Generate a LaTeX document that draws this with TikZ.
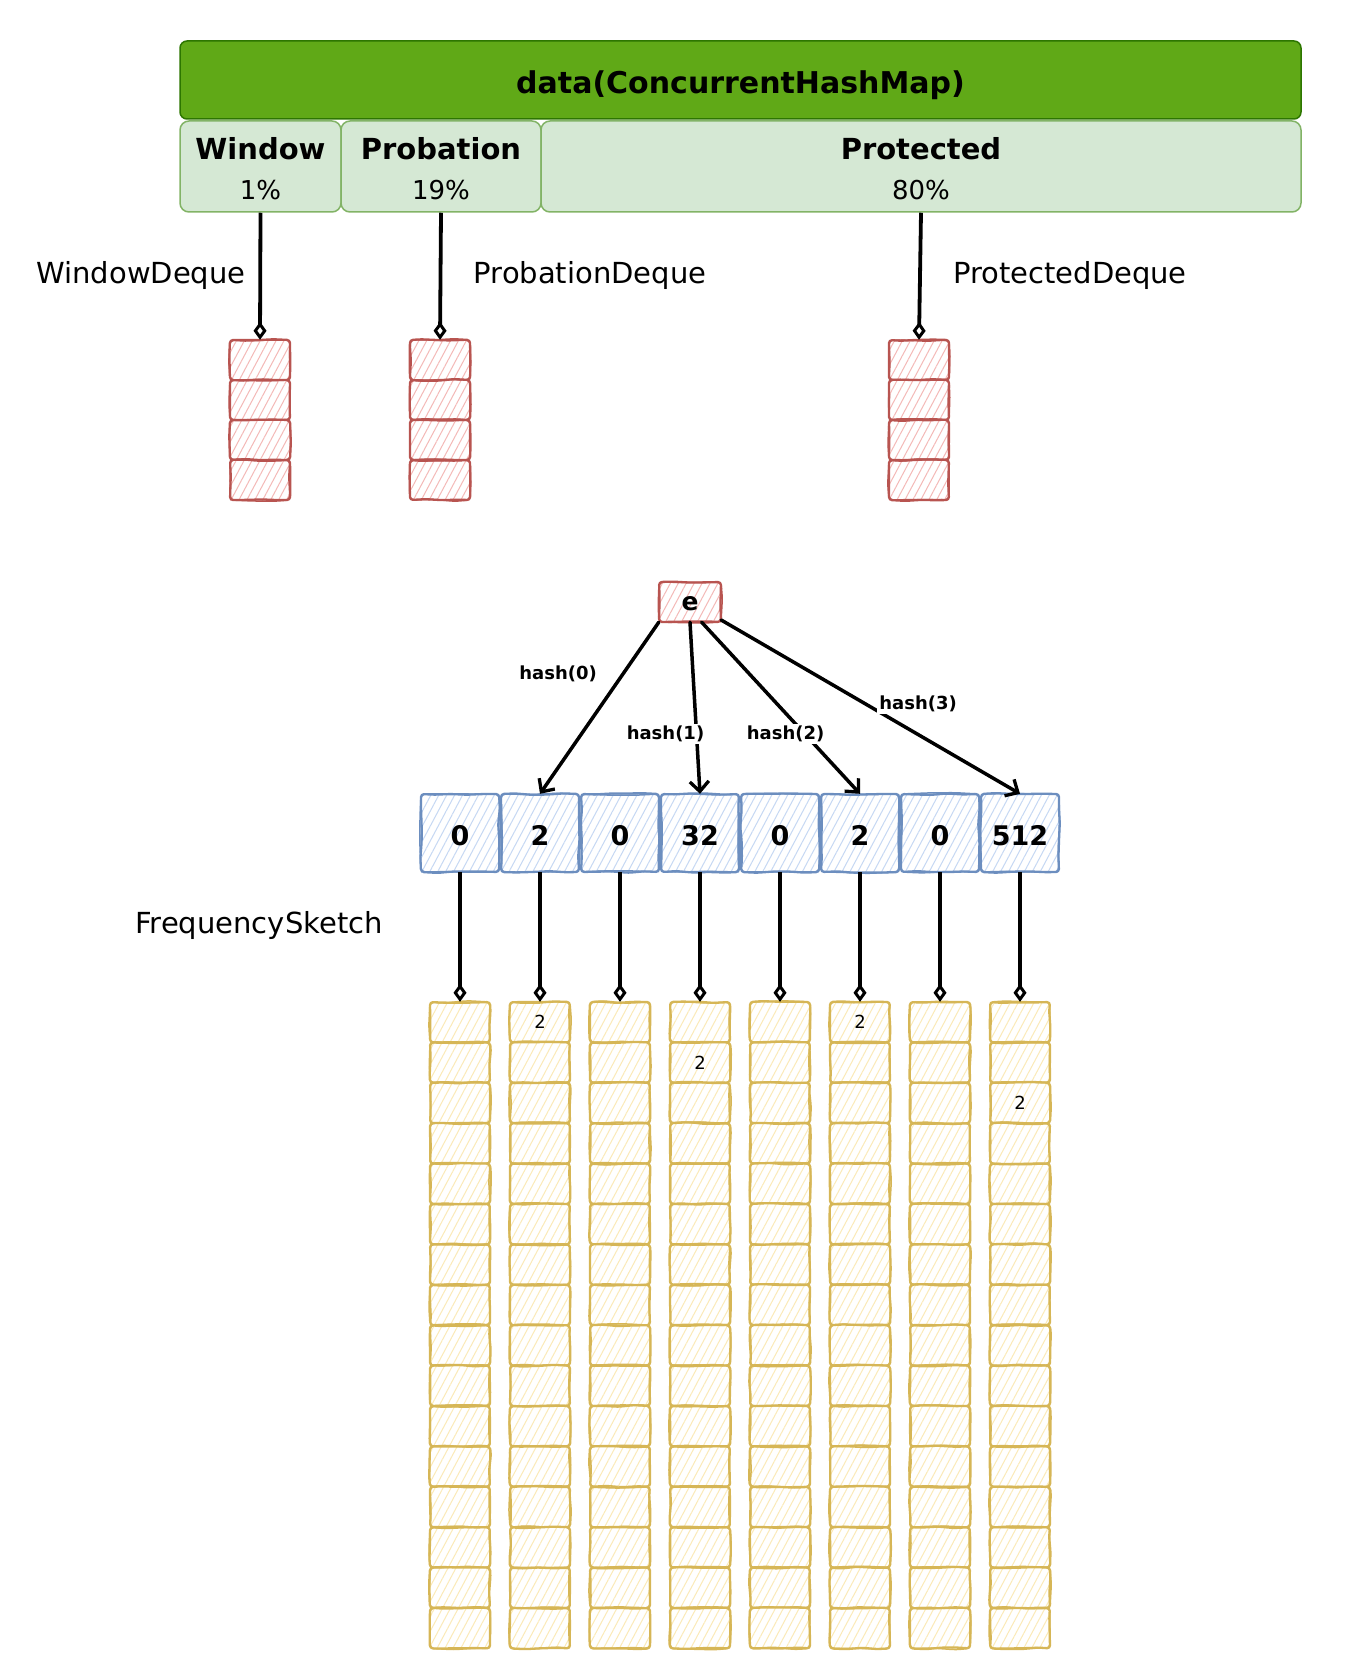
\documentclass[tikz,border=0pt]{standalone}
\usepackage{fontspec}
\setmainfont{DejaVu Sans}
\usetikzlibrary{arrows.meta,decorations.pathmorphing,patterns.meta,calc}

\definecolor{redline}{HTML}{B85450}
\definecolor{redhatch}{HTML}{F4B9B7}
\definecolor{blueline}{HTML}{6C8EBF}
\definecolor{bluehatch}{HTML}{C6D8F3}
\definecolor{yelline}{HTML}{D6B656}
\definecolor{yelhatch}{HTML}{FBEAB8}
\definecolor{darkgreen}{HTML}{2D7600}
\definecolor{midgreen}{HTML}{60A917}
\definecolor{palegreen}{HTML}{D5E8D4}
\definecolor{greenline}{HTML}{82B366}

\tikzset{
  hatchcell/.style 2 args={rectangle, inner sep=0pt, fill=white,
    postaction={pattern={Lines[angle=62,distance=7pt,line width=1pt]}, pattern color=#2},
    postaction={draw=#1, line width=2.3pt, line join=round, decorate,
      decoration={random steps,segment length=16pt,amplitude=0.9pt}, rounded corners=3pt},
    postaction={draw=#1, line width=1.5pt, line join=round, decorate,
      decoration={random steps,segment length=23pt,amplitude=1.4pt}, rounded corners=4pt}},
  rcell/.style={hatchcell={redline}{redhatch}, minimum width=60pt, minimum height=40pt},
  ycell/.style={hatchcell={yelline}{yelhatch}, minimum width=60pt, minimum height=40.4pt,
    font=\fontsize{18}{20}\selectfont},
  bcell/.style={hatchcell={blueline}{bluehatch}, minimum width=78pt, minimum height=78pt,
    font=\fontsize{27}{30}\selectfont\bfseries},
  ecell/.style={hatchcell={redline}{redhatch}, minimum width=62pt, minimum height=40pt,
    font=\fontsize{25}{26}\selectfont\bfseries},
  greenbar/.style={rectangle, rounded corners=7pt, fill=midgreen, draw=darkgreen,
    line width=1.5pt, minimum width=1121pt, minimum height=78pt,
    font=\fontsize{30}{34}\selectfont\bfseries},
  segbox/.style={rectangle, rounded corners=9pt, fill=palegreen, draw=greenline,
    line width=1.5pt, minimum height=91pt, inner sep=0pt,
    font=\fontsize{26}{41}\selectfont},
  dequelabel/.style={font=\fontsize{29}{34}\selectfont},
  hashlabel/.style={font=\fontsize{18}{20}\selectfont\bfseries, inner sep=2pt},
  cntlabel/.style={font=\fontsize{18}{20}\selectfont},
  conn/.style={line width=3.8pt, -{Diamond[open,length=18pt,width=13pt,line width=3pt]}},
  harrow/.style={line width=3.5pt, line cap=round,
    -{Straight Barb[length=10pt,width=19pt,line width=3.3pt]}},
}
% text lowered inside its box without changing the box
\newcommand{\lowered}[2]{\raisebox{-#1}[0pt][0pt]{#2}}
% two-line caption of a cache region, title in bold
\newcommand{\regiontext}[2]{\lowered{11.5pt}{\begin{tabular}{@{}c@{}}%
  {\fontsize{29}{41}\selectfont\bfseries #1}\\[-1pt]#2\end{tabular}}}

\begin{document}
\begin{tikzpicture}[x=1pt,y=-1pt]
\useasboundingbox (0,0) rectangle (1362,1680);

% ConcurrentHashMap and its three regions
\node[greenbar] (data) at (740.5,80) {\lowered{14pt}{data(ConcurrentHashMap)}};
\node[segbox, minimum width=161pt] (win) at (260.5,166.5) {\regiontext{Window}{1\%}};
\node[segbox, minimum width=200pt] (prob) at (441,166.5) {\regiontext{Probation}{19\%}};
\node[segbox, minimum width=760pt] (prot) at (921,166.5) {\regiontext{Protected}{80\%}};

% access-order deques
\foreach \s/\x in {w/260, p/440, t/919}{
  \foreach \r in {1,...,4}{
    \node[rcell] (\s\r) at (\x, {360+40*(\r-1)}) {};
  }
}
\node[dequelabel] (wlbl) at (141,275) {WindowDeque};
\node[dequelabel] (plbl) at (590,275) {ProbationDeque};
\node[dequelabel] (tlbl) at (1070,275) {ProtectedDeque};

\draw[conn] (win.south) -- (w1.north);
\draw[conn] (prob.south) -- (p1.north);
\draw[conn] (prot.south) -- (t1.north);

% the element being counted
\node[ecell] (e) at (690,602) {\lowered{8.5pt}{e}};

% counter row of the sketch
\foreach \v [count=\k] in {0,2,0,32,0,2,0,512}{
  \node[bcell] (b\k) at ({380+80*\k},833) {\lowered{12pt}{\v}};
}

\draw[harrow] (e.south west) -- node[hashlabel, pos=0.3, xshift=-65pt] (h0) {hash(0)} (b2.north);
\draw[harrow] (e.south) -- node[hashlabel, fill=white, pos=0.65, xshift=-31pt] (h1) {hash(1)} (b4.north);
\draw[harrow] (e.-60) -- node[hashlabel, fill=white, pos=0.65, xshift=-19pt] (h2) {hash(2)} (b6.north);
\draw[harrow] (e.-30) -- node[hashlabel, fill=white, pos=0.5, anchor=west, xshift=5pt, yshift=3pt] (h3) {hash(3)} (b8.north);

% frequency table columns
\foreach \c in {1,...,8}{
  \foreach \r in {1,...,16}{
    \node[ycell] (y\c-\r) at ({380+80*\c}, {1022.2+40.4*(\r-1)}) {};
  }
  \draw[conn] (b\c.south) -- (y\c-1.north);
}
\node[cntlabel] (n2) at (y2-1) {2};
\node[cntlabel] (n4) at (y4-2) {2};
\node[cntlabel] (n6) at (y6-1) {2};
\node[cntlabel] (n8) at (y8-3) {2};

\node[dequelabel] (fslbl) at (259,925) {FrequencySketch};
\end{tikzpicture}
\end{document}
